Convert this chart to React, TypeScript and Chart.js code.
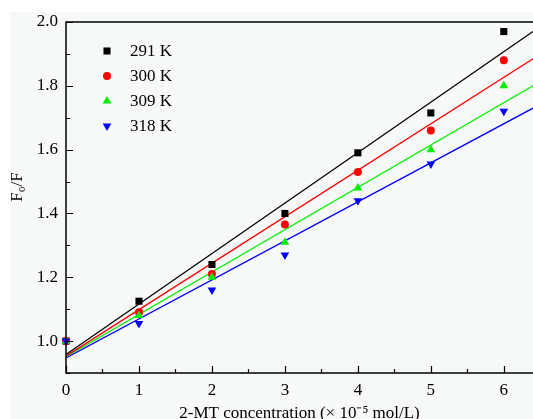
import React, { useEffect, useRef } from 'react';
import { Chart, registerables } from 'chart.js';

Chart.register(...registerables);

// ---- data ----
const concentrations = [0, 1, 2, 3, 4, 5, 6];
const seriesLabels = ['291 K', '300 K', '309 K', '318 K'];
const f291 = [1.0, 1.125, 1.24, 1.4, 1.59, 1.715, 1.97];
const f300 = [1.0, 1.09, 1.21, 1.365, 1.53, 1.66, 1.88];
const f309 = [1.0, 1.08, 1.2, 1.31, 1.48, 1.6, 1.8];
const f318 = [1.0, 1.055, 1.16, 1.27, 1.44, 1.555, 1.72];
// fitted lines: value at the left end and right end of the axis
const fitX = [0, 6.4];
const fit291 = [0.958, 1.97];
const fit300 = [0.953, 1.885];
const fit309 = [0.951, 1.8];
const fit318 = [0.947, 1.73];
const xTickLabels = ['0', '1', '2', '3', '4', '5', '6'];
const yTickLabels = ['1.0', '1.2', '1.4', '1.6', '1.8', '2.0'];
const yTitle = 'F₀/F';
const xTitle = '2-MT concentration (× 10⁻⁵ mol/L)';

const colors = ['#000000', '#ff0000', '#00ee00', '#0000ff'];
const styles: any[] = ['rect', 'circle', 'triangle', 'triangle'];
const rotations = [0, 0, 0, 180];
const radii = [5, 4, 5, 5];

const FONT = '"Liberation Serif", "Times New Roman", serif';

function drawMarker(ctx: CanvasRenderingContext2D, style: string, rot: number, r: number, x: number, y: number, color: string) {
  ctx.save();
  ctx.fillStyle = color;
  ctx.beginPath();
  if (style === 'rect') {
    const s = r * Math.SQRT1_2;
    ctx.rect(x - s, y - s, 2 * s, 2 * s);
  } else if (style === 'circle') {
    ctx.arc(x, y, r, 0, Math.PI * 2);
  } else {
    const a = (rot * Math.PI) / 180;
    for (let k = 0; k < 3; k++) {
      const ang = a + (k * 2 * Math.PI) / 3;
      const px = x + Math.sin(ang) * r;
      const py = y - Math.cos(ang) * r;
      if (k === 0) ctx.moveTo(px, py);
      else ctx.lineTo(px, py);
    }
    ctx.closePath();
  }
  ctx.fill();
  ctx.restore();
}

const decoPlugin = {
  id: 'deco',
  beforeDraw(chart: any) {
    const { ctx, width, height } = chart;
    ctx.save();
    ctx.fillStyle = '#ffffff';
    ctx.fillRect(0, 0, width, height);
    ctx.fillStyle = '#f7f8f8';
    ctx.fillRect(10, 12, width - 10, height - 12);
    ctx.restore();
  },
  afterDraw(chart: any) {
    const { ctx, chartArea: a, scales } = chart;
    const xs = scales.x;
    const ys = scales.y;
    ctx.save();
    ctx.strokeStyle = '#000';
    ctx.lineWidth = 1.5;
    ctx.beginPath();
    ctx.moveTo(a.right, a.top);
    ctx.lineTo(a.left, a.top);
    ctx.lineTo(a.left, a.bottom);
    ctx.lineTo(a.right, a.bottom);
    ctx.stroke();
    ctx.lineWidth = 1.2;
    ctx.beginPath();
    ys.ticks.forEach((t: any) => {
      const v = Math.round(t.value * 10) / 10;
      if (Math.abs(t.value - v) > 1e-6) return;
      const major = yTickLabels.includes(v.toFixed(1));
      const py = Math.round(ys.getPixelForValue(t.value)) + 0.5;
      ctx.moveTo(a.left, py);
      ctx.lineTo(a.left + (major ? 7 : 4), py);
    });
    xs.ticks.forEach((t: any) => {
      const v = Math.round(t.value * 2) / 2;
      if (Math.abs(t.value - v) > 1e-6) return;
      const major = xTickLabels.includes(String(v));
      const px = Math.round(xs.getPixelForValue(t.value)) + 0.5;
      ctx.moveTo(px, a.bottom);
      ctx.lineTo(px, a.bottom - (major ? 7 : 4));
    });
    ctx.stroke();

    // y title
    ctx.font = `17px ${FONT}`;
    ctx.fillStyle = '#000';
    ctx.save();
    ctx.translate(18, 187);
    ctx.rotate(-Math.PI / 2);
    ctx.textAlign = 'center';
    ctx.textBaseline = 'middle';
    ctx.fillText(yTitle, 0, 0);
    ctx.restore();

    // legend
    ctx.textBaseline = 'middle';
    seriesLabels.forEach((lab, i) => {
      const yy = 51 + 25 * i;
      drawMarker(ctx, styles[i], rotations[i], radii[i], 107, yy, colors[i]);
      ctx.fillStyle = '#000';
      ctx.fillText(lab, 130, yy + 1);
    });
    ctx.restore();
  },
};

const pointSeries = [f291, f300, f309, f318];
const fitSeries = [fit291, fit300, fit309, fit318];

export default function App() {
  const ref = useRef<HTMLCanvasElement>(null);
  useEffect(() => {
    document.body.style.margin = '0';
    const datasets: any[] = [];
    pointSeries.forEach((s, i) => {
      datasets.push({
        type: 'scatter',
        label: seriesLabels[i],
        data: concentrations.map((c, k) => ({ x: c, y: s[k] })),
        backgroundColor: colors[i],
        borderColor: colors[i],
        borderWidth: 0,
        pointStyle: styles[i],
        rotation: rotations[i],
        pointRadius: radii[i],
        order: 4 - i,
        clip: false,
      });
    });
    fitSeries.forEach((s, i) => {
      datasets.push({
        type: 'line',
        label: seriesLabels[i] + ' fit',
        data: fitX.map((x, k) => ({ x, y: s[k] })),
        borderColor: colors[i],
        borderWidth: 1.3,
        pointRadius: 0,
        fill: false,
        order: 10 + i,
      });
    });
    const chart = new Chart(ref.current!, {
      type: 'scatter',
      data: { datasets },
      plugins: [decoPlugin],
      options: {
        animation: false,
        responsive: false,
        devicePixelRatio: 1,
        layout: { padding: { top: 22, right: 0, left: 0, bottom: 0 } },
        plugins: { legend: { display: false }, tooltip: { enabled: false } },
        scales: {
          x: {
            type: 'linear',
            min: 0,
            max: 6.4,
            grid: { display: false, drawTicks: false },
            border: { display: false },
            afterFit: (s: any) => { s.height = 46; },
            ticks: {
              stepSize: 0.5,
              includeBounds: false,
              padding: 7,
              color: '#000',
              font: { family: FONT, size: 17 },
              maxRotation: 0,
              autoSkip: false,
              callback: (v: any) => {
                const n = Number(v);
                return xTickLabels.includes(String(n)) ? String(n) : '';
              },
            },
            title: {
              display: true,
              text: xTitle,
              color: '#000',
              font: { family: FONT, size: 17 },
              padding: { top: 0, bottom: -5 },
            },
          },
          y: {
            type: 'linear',
            min: 0.9,
            max: 2.0,
            grid: { display: false, drawTicks: false },
            border: { display: false },
            afterFit: (s: any) => { s.width = 66; },
            ticks: {
              stepSize: 0.1,
              padding: 8,
              color: '#000',
              font: { family: FONT, size: 17 },
              autoSkip: false,
              callback: (v: any) => {
                const t = Number(v).toFixed(1);
                return yTickLabels.includes(t) ? t : '';
              },
            },
            title: { display: false },
          },
        },
      },
    });
    return () => chart.destroy();
  }, []);
  return (
    <div style={{ position: 'fixed', left: 0, top: 0, width: 533, height: 419, overflow: 'hidden' }}>
      <canvas ref={ref} width={538} height={419} style={{ width: 538, height: 419 }} />
    </div>
  );
}
